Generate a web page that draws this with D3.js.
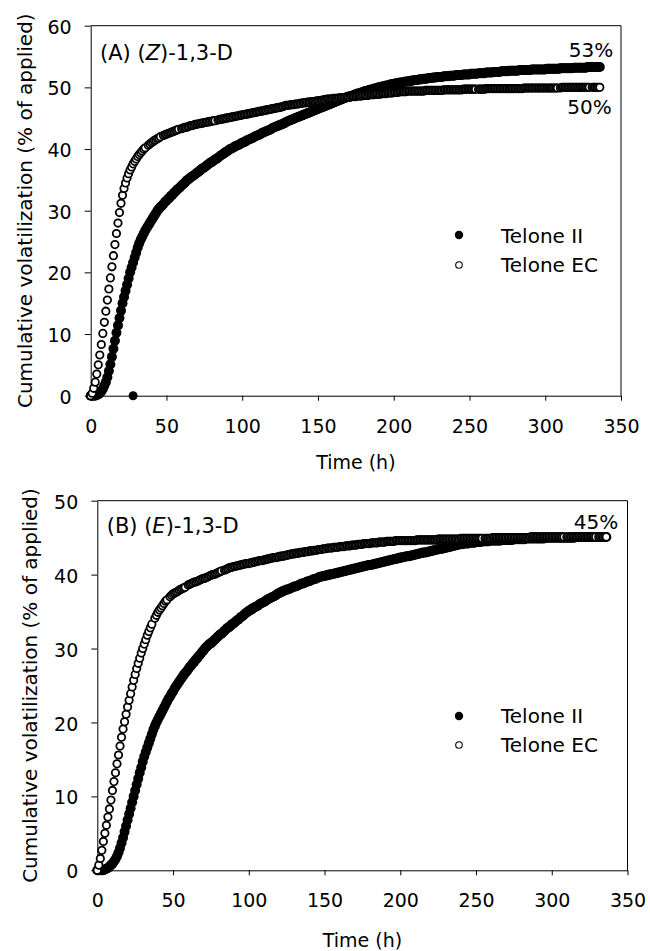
<!DOCTYPE html>
<html><head><meta charset="utf-8">
<script src="https://cdn.jsdelivr.net/npm/d3@7"></script>
<style>body{margin:0;background:#fff}svg{display:block}</style>
</head><body>
<svg id="c" width="650" height="951"></svg>
<script>
// ---- data ----
const hours = d3.range(0, 337); // hourly sampling grid, 0–336 h
const xTicks = [0, 50, 100, 150, 200, 250, 300, 350];
const yTicksZ = [0, 10, 20, 30, 40, 50, 60];
const yTicksE = [0, 10, 20, 30, 40, 50];
const seriesNames = ["Telone II", "Telone EC"];

// (Z)-1,3-D, Telone II (filled)
const zTeloneII = [
0,0,0,0,0.1,0.2,0.4,0.7,1.1,1.6,
2.2,3.0,4.0,5.1,6.3,7.6,8.9,10.2,11.4,12.6,
13.8,15.0,16.0,17.0,18.0,19.0,20.0,20.8,21.6,22.4,
23.2,24.0,24.7,25.3,25.8,26.3,26.8,27.2,27.6,28.0,
28.4,28.8,29.2,29.6,30.0,30.3,30.6,30.8,31.1,31.4,
31.6,31.9,32.1,32.4,32.6,32.9,33.1,33.4,33.6,33.8,
34.1,34.3,34.5,34.8,35.0,35.2,35.4,35.6,35.7,35.9,
36.1,36.3,36.5,36.7,36.9,37.0,37.2,37.4,37.6,37.8,
37.9,38.1,38.3,38.4,38.6,38.8,39.0,39.1,39.3,39.5,
39.6,39.8,40.0,40.1,40.2,40.4,40.5,40.6,40.7,40.9,
41.0,41.1,41.2,41.4,41.5,41.6,41.7,41.8,42.0,42.1,
42.2,42.3,42.4,42.6,42.7,42.8,42.9,43.0,43.1,43.2,
43.4,43.5,43.6,43.7,43.8,43.9,44.0,44.1,44.2,44.4,
44.5,44.6,44.7,44.8,44.9,45.0,45.1,45.2,45.3,45.4,
45.5,45.6,45.7,45.8,45.9,46.0,46.1,46.2,46.3,46.4,
46.5,46.6,46.7,46.8,46.9,47.0,47.1,47.2,47.3,47.4,
47.5,47.6,47.7,47.8,47.9,48.0,48.1,48.2,48.3,48.4,
48.5,48.5,48.6,48.7,48.8,48.9,49.0,49.0,49.1,49.2,
49.3,49.4,49.4,49.5,49.6,49.6,49.7,49.8,49.8,49.9,
50.0,50.0,50.1,50.2,50.2,50.3,50.3,50.4,50.5,50.5,
50.6,50.6,50.7,50.7,50.8,50.8,50.8,50.9,50.9,51.0,
51.0,51.0,51.1,51.1,51.2,51.2,51.2,51.3,51.3,51.3,
51.4,51.4,51.4,51.5,51.5,51.5,51.6,51.6,51.6,51.7,
51.7,51.7,51.7,51.8,51.8,51.8,51.8,51.9,51.9,51.9,
51.9,52.0,52.0,52.0,52.0,52.0,52.1,52.1,52.1,52.1,
52.1,52.2,52.2,52.2,52.2,52.2,52.3,52.3,52.3,52.3,
52.3,52.4,52.4,52.4,52.4,52.4,52.5,52.5,52.5,52.5,
52.5,52.6,52.6,52.6,52.6,52.6,52.7,52.7,52.7,52.7,
52.7,52.7,52.7,52.8,52.8,52.8,52.8,52.8,52.8,52.8,
52.8,52.9,52.9,52.9,52.9,52.9,52.9,52.9,52.9,52.9,
52.9,53.0,53.0,53.0,53.0,53.0,53.0,53.0,53.0,53.0,
53.1,53.1,53.1,53.1,53.1,53.1,53.1,53.1,53.1,53.2,
53.2,53.2,53.2,53.2,53.2,53.2,53.2,53.2,53.3,53.3,
53.3,53.3,53.3,53.3,53.3,53.3,53.3];

// (Z)-1,3-D, Telone EC (open); null = no sample
const zTeloneEC = [
0,0.4,1.2,2.2,3.5,5.0,6.6,8.3,10.1,11.9,
13.7,15.5,17.3,19.1,20.9,22.7,24.5,26.3,28.0,29.7,
31.2,32.5,33.6,34.5,35.3,36.0,36.6,37.1,37.6,38.0,
38.4,38.8,39.1,39.4,39.7,40.0,40.2,null,40.6,40.8,
41.0,41.2,41.4,41.5,41.7,41.8,42.0,null,42.2,42.3,
42.4,42.5,42.6,42.7,42.8,42.9,43.0,43.1,43.2,null,
43.3,43.4,43.5,43.5,43.6,43.7,43.8,43.8,43.9,44.0,
44.0,44.1,44.1,44.2,44.2,44.3,44.3,44.4,44.4,44.5,
44.5,44.6,44.6,null,44.7,44.8,44.8,44.9,44.9,45.0,
45.0,45.1,45.1,45.2,45.2,45.3,45.3,45.4,45.4,45.5,
45.5,45.6,45.6,45.7,45.7,45.8,45.8,45.9,45.9,46.0,
46.0,46.1,46.1,46.2,46.2,46.3,46.3,46.4,46.4,46.5,
46.5,46.6,46.6,46.7,46.7,46.8,46.8,46.9,47.0,47.1,
47.1,47.1,47.2,47.2,47.2,47.3,47.3,47.3,47.4,47.4,
47.5,47.5,47.5,47.6,47.6,47.6,47.7,47.7,47.7,47.8,
47.8,47.8,47.9,47.9,48.0,48.0,48.1,48.1,48.1,48.1,
48.2,48.2,48.2,48.2,48.3,48.3,48.3,48.3,48.4,48.4,
48.4,48.4,48.5,48.5,48.5,48.5,48.6,48.6,48.6,48.6,
48.7,48.7,48.7,48.7,48.8,48.8,48.8,48.8,48.9,48.9,
48.9,48.9,49.0,49.0,49.0,49.0,49.1,49.1,49.1,49.1,
49.2,49.2,49.2,49.2,49.3,49.3,49.3,49.3,49.3,49.4,
49.4,49.4,49.4,49.4,49.4,49.4,49.4,49.4,49.4,49.4,
49.4,49.5,49.5,49.5,49.5,49.5,49.5,49.5,49.5,49.5,
49.5,49.5,49.5,49.6,49.6,49.6,49.6,49.6,49.6,49.6,
49.6,49.6,49.6,49.6,49.6,49.6,49.7,49.7,49.7,49.7,
49.7,49.7,49.7,49.7,49.7,null,49.7,49.7,49.7,49.7,
49.7,49.8,49.8,49.8,49.8,49.8,49.8,49.8,49.8,49.8,
49.8,49.8,49.8,49.8,49.8,49.8,49.8,49.8,49.8,49.8,
49.8,49.8,49.8,49.8,49.8,49.8,49.9,49.9,49.9,49.9,
49.9,49.9,49.9,49.9,49.9,49.9,49.9,49.9,49.9,49.9,
49.9,49.9,49.9,49.9,49.9,49.9,49.9,49.9,49.9,null,
49.9,50.0,50.0,50.0,50.0,50.0,50.0,50.0,50.0,50.0,
50.0,50.0,50.0,50.0,50.0,50.0,50.0,50.0,50.0,50.0,
null,50.0,50.0,50.0,50.0,50.0,50.0];

// (E)-1,3-D, Telone II (filled)
const eTeloneII = [
0,0,0,0,0,0.1,0.2,0.3,0.5,0.7,
0.9,1.2,1.5,1.9,2.4,3.0,3.7,4.4,5.2,6.0,
6.8,7.6,8.4,9.2,10.0,10.8,11.6,12.4,13.2,13.9,
14.7,15.4,16.0,16.6,17.2,17.8,18.4,19.0,19.5,20.0,
20.4,20.8,21.2,21.6,22.0,22.4,22.8,23.2,23.5,23.9,
24.2,24.6,24.9,25.2,25.5,25.8,26.1,26.4,26.7,26.9,
27.2,27.5,27.7,28.0,28.2,28.5,28.7,29.0,29.2,29.5,
29.7,30.0,30.2,30.4,30.6,30.7,30.9,31.1,31.3,31.5,
31.7,31.9,32.0,32.2,32.4,32.6,32.8,32.9,33.1,33.3,
33.4,33.6,33.8,33.9,34.1,34.3,34.4,34.6,34.8,34.9,
35.1,35.2,35.3,35.5,35.6,35.7,35.8,36.0,36.1,36.2,
36.3,36.4,36.6,36.7,36.8,36.9,37.0,37.1,37.2,37.4,
37.5,37.6,37.7,37.8,37.9,38.0,38.0,38.1,38.2,38.3,
38.4,38.4,38.5,38.6,38.7,38.8,38.8,38.9,39.0,39.1,
39.1,39.2,39.3,39.4,39.4,39.5,39.6,39.7,39.7,39.8,
39.8,39.9,39.9,40.0,40.0,40.1,40.1,40.2,40.2,40.3,
40.3,40.4,40.4,40.5,40.5,40.6,40.6,40.7,40.7,40.8,
40.8,40.9,40.9,41.0,41.0,41.1,41.1,41.2,41.2,41.3,
41.3,41.3,41.4,41.4,41.5,41.5,41.6,41.6,41.7,41.7,
41.8,41.8,41.9,41.9,42.0,42.0,42.1,42.1,42.2,42.2,
42.3,42.3,42.4,42.4,42.5,42.5,42.5,42.6,42.6,42.7,
42.7,42.8,42.8,42.9,42.9,43.0,43.0,43.0,43.1,43.1,
43.2,43.2,43.3,43.3,43.4,43.4,43.5,43.5,43.5,43.6,
43.6,43.7,43.7,43.8,43.8,43.9,43.9,44.0,44.0,44.1,
44.1,44.1,44.2,44.2,44.2,44.2,44.3,44.3,44.3,44.3,
44.4,44.4,44.4,44.4,44.5,44.5,44.5,44.5,44.5,44.6,
44.6,44.6,44.6,44.6,44.6,44.6,44.6,44.7,44.7,44.7,
44.7,44.7,44.7,44.7,44.7,44.8,44.8,44.8,44.8,44.8,
44.8,44.8,44.8,44.9,44.9,44.9,44.9,44.9,44.9,44.9,
44.9,44.9,44.9,44.9,44.9,44.9,45.0,45.0,45.0,45.0,
45.0,45.0,45.0,45.0,45.0,45.0,45.0,45.0,45.0,45.0,
45.0,45.0,45.0,45.0,45.0,45.0,45.1,45.1,45.1,45.1,
45.1,45.1,45.1,45.1,45.1,45.1,45.1,45.1,45.1,45.1,
45.1,45.1,45.1,45.1,45.1,45.1,45.1];

// (E)-1,3-D, Telone EC (open); null = no sample
const eTeloneEC = [
0,0.7,1.6,2.7,3.9,5.0,6.1,7.2,8.3,9.5,
10.8,12.0,13.2,14.4,15.6,16.8,18.0,19.1,20.1,21.1,
22.1,23.0,23.9,24.8,25.7,26.5,27.3,28.0,28.7,29.4,
30.0,30.6,31.2,31.8,32.3,32.8,33.3,null,34.1,34.5,
34.9,35.2,35.5,35.8,36.1,36.4,36.6,null,37.0,37.2,
37.4,37.5,37.6,37.7,37.9,38.0,38.1,38.2,38.3,null,
38.6,38.7,38.8,38.9,39.0,39.0,39.1,39.2,39.3,39.4,
39.5,39.5,39.6,39.7,39.8,39.9,40.0,40.0,40.1,40.2,
40.3,40.4,40.5,null,40.6,40.7,40.8,40.9,41.0,41.0,
41.1,41.1,41.2,41.2,41.3,41.3,41.4,41.4,41.5,41.5,
41.5,41.6,41.6,41.7,41.7,41.8,41.8,41.9,41.9,41.9,
42.0,42.0,42.1,42.1,42.2,42.2,42.3,42.3,42.3,42.4,
42.4,42.5,42.5,42.5,42.6,42.6,42.7,42.7,42.8,42.8,
42.8,42.9,42.9,42.9,43.0,43.0,43.0,43.1,43.1,43.1,
43.2,43.2,43.2,43.3,43.3,43.3,43.4,43.4,43.4,43.5,
43.5,43.5,43.6,43.6,43.6,43.6,43.7,43.7,43.7,43.7,
43.8,43.8,43.8,43.8,43.9,43.9,43.9,43.9,44.0,44.0,
44.0,44.0,44.1,44.1,44.1,44.1,44.2,44.2,44.2,44.2,
44.2,44.3,44.3,44.3,44.3,44.3,44.4,44.4,44.4,44.4,
44.4,44.5,44.5,44.5,44.5,44.5,44.5,44.6,44.6,44.6,
44.6,44.6,44.6,44.6,44.6,44.6,44.6,44.6,44.6,44.6,
44.6,44.7,44.7,44.7,44.7,44.7,44.7,44.7,44.7,44.7,
44.7,44.7,44.7,44.7,44.7,44.8,44.8,44.8,44.8,44.8,
44.8,44.8,44.8,44.8,44.8,44.8,44.8,44.8,44.8,44.8,
44.9,44.9,44.9,44.9,44.9,44.9,44.9,44.9,44.9,44.9,
44.9,44.9,44.9,44.9,44.9,null,44.9,44.9,44.9,44.9,
44.9,45.0,45.0,45.0,45.0,45.0,45.0,45.0,45.0,45.0,
45.0,45.0,45.0,45.0,45.0,45.0,45.0,45.0,45.0,45.0,
45.0,45.0,45.0,45.0,45.0,45.0,45.1,45.1,45.1,45.1,
45.1,45.1,45.1,45.1,45.1,45.1,45.1,45.1,45.1,45.1,
45.1,45.1,45.1,45.1,45.1,45.1,45.1,45.1,45.1,null,
45.1,45.1,45.1,45.1,45.1,45.1,45.1,45.1,45.1,45.1,
45.1,45.1,45.1,45.1,45.1,45.1,45.1,45.1,45.1,45.1,
null,45.1,45.1,45.1,45.1,45.1,45.1];

// stray Telone II reading in panel A
const zStrayHours = [28];
const zStrayValues = [0];

// ---- layout ----
const FONT = "'DejaVu Sans', 'Liberation Sans', Arial, sans-serif";
const panels = [
  { title: ["(A) (", "Z", ")-1,3-D"], ii: zTeloneII, ec: zTeloneEC, yTicks: yTicksZ, yMax: 60,
    left: 90.7, right: 621, top: 25.7, bottom: 395.7, xPad: 19,
    labelX: 100, labelY: 59.5, yTitleX: 31.5, xTitleY: 468.5,
    legY: [235, 265], legTextY: [243, 272],
    ends: [{ t: "53%", x: 613.3, y: 57.3 }, { t: "50%", x: 611.7, y: 114.3 }],
    stray: true },
  { title: ["(B) (", "E", ")-1,3-D"], ii: eTeloneII, ec: eTeloneEC, yTicks: yTicksE, yMax: 50,
    left: 97.3, right: 627.5, top: 500.7, bottom: 870.3, xPad: 18,
    labelX: 106.7, labelY: 533.3, yTitleX: 36.5, xTitleY: 946.5,
    legY: [716, 745], legTextY: [723, 752],
    ends: [{ t: "45%", x: 618.3, y: 529.3 }],
    stray: false }
];

const svg = d3.select("#c");

panels.forEach(p => {
  const x = d3.scaleLinear().domain([0, 350]).range([p.left, p.right]);
  const y = d3.scaleLinear().domain([0, p.yMax]).range([p.bottom, p.top]);
  const g = svg.append("g");

  // frame (top and right)
  g.append("path")
    .attr("d", `M${p.left},${p.top}H${p.right}V${p.bottom}`)
    .attr("fill", "none").attr("stroke", "#000").attr("stroke-width", 1);

  const ax = g.append("g").attr("transform", `translate(0,${p.bottom})`)
    .call(d3.axisBottom(x).tickValues(xTicks).tickSize(5).tickSizeOuter(0).tickPadding(p.xPad));
  const ay = g.append("g").attr("transform", `translate(${p.left},0)`)
    .call(d3.axisLeft(y).tickValues(p.yTicks).tickSize(6).tickSizeOuter(0).tickPadding(13));
  [ax, ay].forEach(a => {
    a.attr("font-family", FONT).attr("font-size", 19);
    a.selectAll("text").attr("fill", "#000");
    a.selectAll("line,path").attr("stroke", "#000");
  });
  ay.selectAll("text").attr("dy", "0.4em");

  // series
  const pts = arr => hours.map((h, i) => ({ h, v: arr[i] })).filter(d => d.v != null);
  g.append("g").selectAll("circle").data(pts(p.ii)).join("circle")
    .attr("cx", d => x(d.h)).attr("cy", d => y(d.v)).attr("r", 5).attr("fill", "#000");
  if (p.stray) {
    g.append("g").selectAll("circle").data(zStrayHours.map((h, i) => ({ h, v: zStrayValues[i] }))).join("circle")
      .attr("cx", d => x(d.h)).attr("cy", d => y(d.v)).attr("r", 4.5).attr("fill", "#000");
  }
  g.append("g").selectAll("circle").data(pts(p.ec)).join("circle")
    .attr("cx", d => x(d.h)).attr("cy", d => y(d.v)).attr("r", 3.7)
    .attr("fill", "#fff").attr("stroke", "#000").attr("stroke-width", 1.8);

  // panel label
  const lab = g.append("text").attr("x", p.labelX).attr("y", p.labelY)
    .attr("font-family", FONT).attr("font-size", 21);
  lab.append("tspan").text(p.title[0]);
  lab.append("tspan").attr("font-style", "italic").text(p.title[1]);
  lab.append("tspan").text(p.title[2]);

  // end labels
  g.selectAll("text.end").data(p.ends).join("text").attr("class", "end")
    .attr("x", d => d.x).attr("y", d => d.y).attr("text-anchor", "end")
    .attr("font-family", FONT).attr("font-size", 20).text(d => d.t);

  // legend
  g.append("circle").attr("cx", 459).attr("cy", p.legY[0]).attr("r", 4.2).attr("fill", "#000");
  g.append("circle").attr("cx", 459).attr("cy", p.legY[1]).attr("r", 3.3)
    .attr("fill", "#fff").attr("stroke", "#000").attr("stroke-width", 1.1);
  seriesNames.forEach((n, i) => {
    g.append("text").attr("x", 501).attr("y", p.legTextY[i])
      .attr("font-family", FONT).attr("font-size", 20).text(n);
  });

  // axis titles
  g.append("text").attr("x", (p.left + p.right) / 2).attr("y", p.xTitleY)
    .attr("text-anchor", "middle").attr("font-family", FONT).attr("font-size", 19).text("Time (h)");
  g.append("text")
    .attr("transform", `translate(${p.yTitleX},${(p.top + p.bottom) / 2}) rotate(-90)`)
    .attr("text-anchor", "middle").attr("font-family", FONT).attr("font-size", 20)
    .text("Cumulative volatilization (% of applied)");
});
</script>
</body></html>
